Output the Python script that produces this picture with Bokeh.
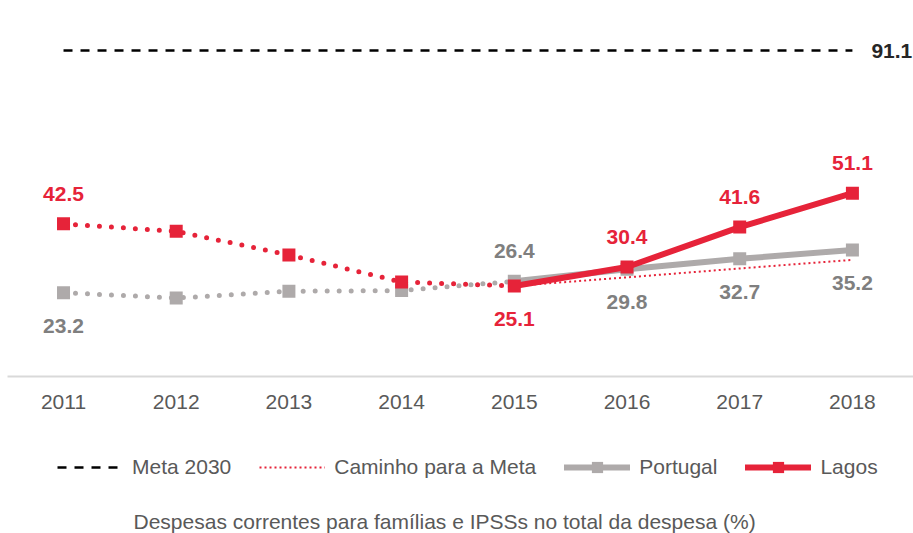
from bokeh.plotting import figure
from bokeh.layouts import column
from bokeh.models import (Range1d, ColumnDataSource, Legend, LegendItem, Title, FixedTicker)
from bokeh.core.properties import value
from bokeh.embed import file_html
from bokeh.resources import INLINE

# ---- data ----
years = [2011, 2012, 2013, 2014, 2015, 2016, 2017, 2018]
tick_labels = ["2011", "2012", "2013", "2014", "2015", "2016", "2017", "2018"]
lagos = [42.5, 40.4, 33.8, 26.2, 25.1, 30.4, 41.6, 51.1]
portugal = [23.2, 21.7, 23.6, 23.8, 26.4, 29.8, 32.7, 35.2]
caminho_years = [2015, 2016, 2017, 2018]
caminho = [25.1, 27.5, 30.0, 32.4]
meta_years = [2011, 2018]
meta_value = 91.1
label_years = [2011, 2015, 2016, 2017, 2018]
split_year = 2015
series_names = ["Meta 2030", "Caminho para a Meta", "Portugal", "Lagos"]
caption = "Despesas correntes para famílias e IPSSs no total da despesa (%)"

# ---- style ----
RED = "#E62339"
GRAY = "#AEAAAA"
GRAY_LBL = "#7F7F7F"
TXT = "#595959"
FONT = "Liberation Sans"

META_STYLE = dict(line_color="black", line_width=2.5, line_dash="9 8")
CAM_STYLE = dict(line_color=RED, line_width=2, line_dash="2 3")
POR_LINE = dict(line_color=GRAY, line_width=6, line_cap="round", line_join="round")
LAG_LINE = dict(line_color=RED, line_width=6, line_cap="round", line_join="round")

p = figure(width=913, height=413,
           x_range=Range1d(2010.503, 2018.542), y_range=Range1d(-0.3, 105.14),
           output_backend="svg", toolbar_location=None, y_axis_location=None,
           min_border_left=7, min_border_right=0, min_border_top=0,
           min_border_bottom=37, outline_line_color=None)
p.grid.visible = False
p.background_fill_color = "white"
p.border_fill_color = "white"

ax = p.xaxis[0]
ax.ticker = FixedTicker(ticks=years)
ax.major_label_overrides = {y: t for y, t in zip(years, tick_labels)}
ax.axis_line_color = "#D9D9D9"
ax.axis_line_width = 2
ax.major_tick_line_color = None
ax.minor_tick_line_color = None
ax.major_label_text_font_size = "21px"
ax.major_label_text_color = TXT
ax.major_label_text_font = FONT
ax.major_label_standoff = 12

def split(xs, ys):
    before = [(x, y) for x, y in zip(xs, ys) if x <= split_year]
    after = [(x, y) for x, y in zip(xs, ys) if x >= split_year]
    return ([a for a, _ in before], [b for _, b in before]), ([a for a, _ in after], [b for _, b in after])

(pbx, pby), (pax, pay) = split(years, portugal)
(lbx, lby), (lax, lay) = split(years, lagos)
meta_ys = [meta_value] * len(meta_years)

# Meta 2030
p.line(meta_years, meta_ys, **META_STYLE)
p.text(x=[meta_years[-1]], y=[meta_value], text=[f"{meta_value:.1f}"], x_offset=19,
       text_align="left", text_baseline="middle", text_font=value(FONT),
       text_font_style="bold", text_font_size="21px", text_color="#262626")

# Caminho para a Meta
p.line(caminho_years, caminho, **CAM_STYLE)

# Portugal
p.line(pbx, pby, line_color=GRAY, line_width=5, line_dash="0 12", line_cap="round")
p.line(pax, pay, **POR_LINE)
p.scatter(years, portugal, marker="square", size=13, fill_color=GRAY, line_color=None)

# Lagos
p.line(lbx, lby, line_color=RED, line_width=5, line_dash="0 12", line_cap="round")
p.line(lax, lay, **LAG_LINE)
p.scatter(years, lagos, marker="square", size=13, fill_color=RED, line_color=None)

# data labels: higher series above, lower below
lx, ly, lt, lo, lc = [], [], [], [], []
for yr in label_years:
    i = years.index(yr)
    l, pt = lagos[i], portugal[i]
    for v, other, col in ((l, pt, RED), (pt, l, GRAY_LBL)):
        lx.append(yr); ly.append(v); lt.append(f"{v:.1f}"); lc.append(col)
        lo.append(-30 if v >= other else 33)
src = ColumnDataSource(dict(x=lx, y=ly, text=lt, yo=lo, color=lc))
p.text(x="x", y="y", text="text", y_offset="yo", text_color="color", source=src,
       text_align="center", text_baseline="middle", text_font=value(FONT),
       text_font_style="bold", text_font_size="21px")

# ---- legend + caption strip (its renderers lie outside its own view) ----
q = figure(width=913, height=120, x_range=Range1d(0, 1), y_range=Range1d(0, 1),
           output_backend="svg", toolbar_location=None,
           x_axis_location=None, y_axis_location=None,
           min_border_left=7, min_border_right=0, min_border_top=0,
           min_border_bottom=26, outline_line_color=None)
q.grid.visible = False
q.background_fill_color = "white"
q.border_fill_color = "white"

r_meta = q.line(meta_years, meta_ys, **META_STYLE)
r_cam = q.line(caminho_years, caminho, **CAM_STYLE)
r_por = q.line(pax, pay, **POR_LINE)
r_por_m = q.scatter(years, portugal, marker="square", fill_color=GRAY, line_color=None)
r_lag = q.line(lax, lay, **LAG_LINE)
r_lag_m = q.scatter(years, lagos, marker="square", fill_color=RED, line_color=None)

legend = Legend(items=[
    LegendItem(label=series_names[0], renderers=[r_meta]),
    LegendItem(label=series_names[1], renderers=[r_cam]),
    LegendItem(label=series_names[2], renderers=[r_por, r_por_m]),
    LegendItem(label=series_names[3], renderers=[r_lag, r_lag_m]),
], location=(50, 26.5), orientation="horizontal")
legend.background_fill_alpha = 0
legend.border_line_color = None
legend.padding = 0
legend.margin = 0
legend.spacing = 28
legend.glyph_width = 66
legend.glyph_height = 28
legend.label_height = 28
legend.label_standoff = 9
legend.label_text_font_size = "21px"
legend.label_text_color = TXT
legend.label_text_font = FONT
q.add_layout(legend)

q.add_layout(Title(text=caption, align="left", offset=126, standoff=0,
                   text_font_size="21px", text_font=FONT, text_font_style="normal",
                   text_color=TXT), "below")

layout = column(p, q, spacing=0)
open("out.html", "w").write(file_html(layout, INLINE))
